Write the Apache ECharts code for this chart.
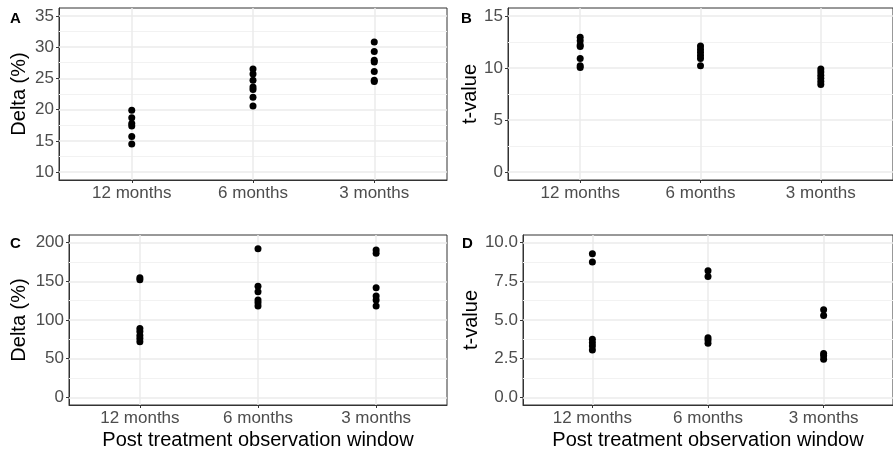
<!DOCTYPE html>
<html>
<head>
<meta charset="utf-8">
<script src="https://cdn.jsdelivr.net/npm/echarts@6/dist/echarts.min.js"></script>
<style>
  html, body { margin: 0; padding: 0; background: #fff; }
  #chart { width: 893px; height: 452px; }
</style>
</head>
<body>
<div id="chart"></div>
<script>
// categories on the x axis
const windows = ['12 months', '6 months', '3 months'];

// one inner array per observation window (12, 6, 3 months)
const deltaA = [
  [19.9, 18.7, 17.8, 17.4, 15.7, 14.5],
  [26.5, 25.7, 24.7, 23.6, 23.2, 22.0, 20.6],
  [30.8, 29.3, 27.9, 27.6, 26.1, 24.7, 24.5]
];
const tvalB = [
  [12.95, 12.6, 12.2, 12.05, 10.9, 10.2, 10.05],
  [12.1, 11.8, 11.5, 11.2, 10.9, 10.2],
  [9.9, 9.6, 9.3, 9.0, 8.7, 8.4]
];
const deltaC = [
  [154.8, 152.2, 89, 85, 80, 76, 72],
  [192.3, 143.7, 136.5, 125.8, 122.4, 118.1],
  [190.6, 186.4, 141.6, 130.9, 125.8, 118.1]
];
const tvalD = [
  [9.29, 8.76, 3.75, 3.53, 3.32, 3.06],
  [8.18, 7.82, 3.85, 3.7, 3.49],
  [5.67, 5.29, 2.83, 2.68, 2.46]
];

// y tick labels of each panel
const ticksA = [10, 15, 20, 25, 30, 35];
const ticksB = [0, 5, 10, 15];
const ticksC = [0, 50, 100, 150, 200];
const ticksD = [0, 2.5, 5, 7.5, 10];

const FONT = 'Liberation Sans';
const grids = [
  { left: 59, right: 446, top: 8, bottom: 272 },
  { left: 508, right: -1, top: 8, bottom: 272 },
  { left: 69, right: 446, top: 235, bottom: 47 },
  { left: 523, right: -1, top: 235, bottom: 47 }
];
const panels = [
  { letter: 'A', data: deltaA, ticks: ticksA, name: 'Delta (%)', gap: 30, dec: 0, lx: 10, ly: 11 },
  { letter: 'B', data: tvalB, ticks: ticksB, name: 't-value', gap: 27, dec: 0, lx: 461, ly: 11 },
  { letter: 'C', data: deltaC, ticks: ticksC, name: 'Delta (%)', gap: 40, dec: 0, lx: 10, ly: 236 },
  { letter: 'D', data: tvalD, ticks: ticksD, name: 't-value', gap: 42, dec: 1, lx: 462, ly: 236 }
];

const option = {
  animation: false,
  backgroundColor: '#fff',
  title: [],
  grid: [],
  xAxis: [],
  yAxis: [],
  series: []
};

panels.forEach(function (p, i) {
  const lo = p.ticks[0], hi = p.ticks[p.ticks.length - 1];
  const pad = (hi - lo) * 0.05;
  const step = p.ticks[1] - p.ticks[0];

  option.title.push({
    text: p.letter, left: p.lx, top: p.ly, padding: 0,
    textStyle: { fontFamily: FONT, fontSize: 15, fontWeight: 'bold', color: '#000' }
  });
  option.grid.push(Object.assign({ show: true, borderColor: '#333', borderWidth: 1 }, grids[i]));

  option.xAxis.push({
    type: 'value', gridIndex: i, min: -0.6, max: 2.6,
    axisLine: { show: true, onZero: false, lineStyle: { color: '#333', width: 1 } },
    axisTick: { show: true, length: 3, lineStyle: { color: '#333' }, customValues: [0, 1, 2] },
    axisLabel: {
      customValues: [0, 1, 2], margin: 5,
      fontFamily: FONT, fontSize: 17, color: '#4d4d4d',
      formatter: function (v) { return windows[Math.round(v)]; }
    },
    splitLine: { show: false },
    name: i >= 2 ? 'Post treatment observation window' : '',
    nameLocation: 'middle', nameGap: 25,
    nameTextStyle: { fontFamily: FONT, fontSize: 20, color: '#000' }
  });

  option.yAxis.push({
    type: 'value', gridIndex: i, min: lo - pad, max: hi + pad,
    axisLine: { show: true, onZero: false, lineStyle: { color: '#333', width: 1 } },
    axisTick: { show: true, length: 3, lineStyle: { color: '#333' }, customValues: p.ticks },
    axisLabel: {
      customValues: p.ticks, margin: 5,
      fontFamily: FONT, fontSize: 17, color: '#4d4d4d',
      formatter: function (v) { return v.toFixed(p.dec); }
    },
    splitLine: { show: false },
    name: p.name, nameLocation: 'middle', nameGap: p.gap,
    nameTextStyle: { fontFamily: FONT, fontSize: 20, color: '#000' }
  });

  // grid lines: major at ticks, minor halfway, vertical at categories
  const lines = [];
  p.ticks.forEach(function (t, k) {
    if (k > 0) lines.push({ yAxis: t - step / 2, lineStyle: { color: '#f2f2f2', width: 1, type: 'solid' } });
  });
  p.ticks.forEach(function (t) {
    lines.push({ yAxis: t, lineStyle: { color: '#ebebeb', width: 1.5, type: 'solid' } });
  });
  [0, 1, 2].forEach(function (c) {
    lines.push({ xAxis: c, lineStyle: { color: '#ebebeb', width: 1.5, type: 'solid' } });
  });
  option.series.push({
    type: 'scatter', xAxisIndex: i, yAxisIndex: i, data: [], z: 1, silent: true,
    markLine: { z: 1, silent: true, symbol: 'none', label: { show: false }, animation: false, data: lines }
  });

  const pts = [];
  p.data.forEach(function (group, g) {
    group.forEach(function (v) { pts.push([g, v]); });
  });
  option.series.push({
    type: 'scatter', xAxisIndex: i, yAxisIndex: i, z: 3,
    symbol: 'circle', symbolSize: 7,
    itemStyle: { color: '#000', borderWidth: 0, opacity: 1 },
    data: pts
  });
});

const chart = echarts.init(document.getElementById('chart'));
chart.setOption(option);
window.addEventListener('resize', function () { chart.resize(); });
</script>
</body>
</html>
